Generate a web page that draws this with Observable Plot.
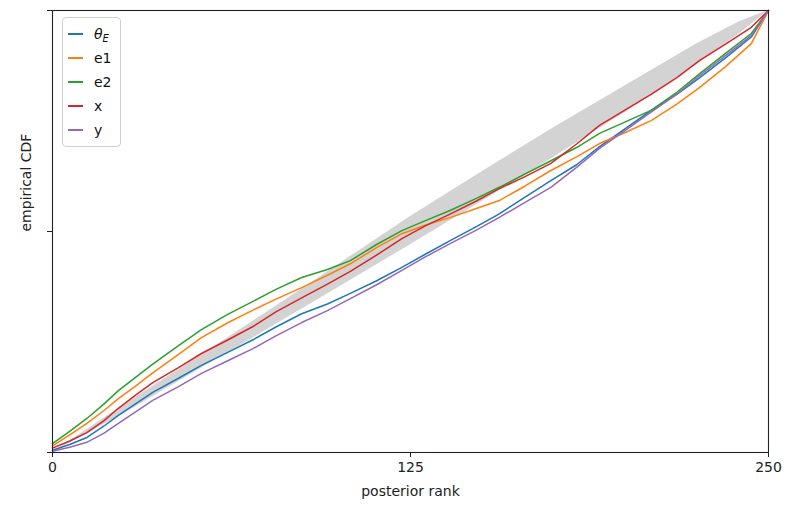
<!DOCTYPE html>
<html><head><meta charset="utf-8">
<script src="https://cdn.jsdelivr.net/npm/d3@7"></script>
<script src="https://cdn.jsdelivr.net/npm/@observablehq/plot@0.6"></script>
<style>
body{margin:0;background:#fff;font-family:"DejaVu Sans",sans-serif;}
#wrap{position:relative;width:798px;height:506px;}
#legend{position:absolute;left:62px;top:17px;width:59px;height:130px;border:1px solid #d0d0d0;border-radius:4px;background:rgba(255,255,255,0.85);box-sizing:border-box;}
.row{position:absolute;left:0;height:20px;width:58px;}
.sw{position:absolute;left:5px;top:9px;width:15px;height:0;border-top:2px solid;}
.lab{position:absolute;left:31px;top:0;font-size:14px;line-height:20px;color:#111;}
</style>
</head><body>
<div id="wrap"></div>
<script>
const series = ["θ_E", "e1", "e2", "x", "y"];
const colors = ["#1f77b4", "#ff7f0e", "#2ca02c", "#d62728", "#9467bd"];
const ranks = [0, 6, 12, 18, 23, 29, 35, 44, 52, 61, 70, 78, 87, 96, 104, 113, 122, 130, 139, 148, 156, 165, 174, 183, 191, 200, 209, 218, 226, 235, 244, 250];
const thetaE = [0.005, 0.018, 0.034, 0.060, 0.084, 0.110, 0.136, 0.168, 0.197, 0.226, 0.255, 0.284, 0.314, 0.336, 0.360, 0.388, 0.419, 0.448, 0.480, 0.511, 0.540, 0.578, 0.615, 0.651, 0.692, 0.733, 0.774, 0.810, 0.848, 0.893, 0.940, 1];
const e1     = [0.015, 0.040, 0.066, 0.095, 0.122, 0.150, 0.180, 0.222, 0.260, 0.293, 0.322, 0.347, 0.373, 0.401, 0.427, 0.463, 0.495, 0.514, 0.532, 0.552, 0.570, 0.603, 0.638, 0.669, 0.699, 0.724, 0.751, 0.788, 0.826, 0.873, 0.925, 1];
const e2     = [0.020, 0.048, 0.077, 0.110, 0.140, 0.170, 0.200, 0.242, 0.278, 0.312, 0.342, 0.369, 0.396, 0.414, 0.434, 0.470, 0.502, 0.524, 0.548, 0.575, 0.600, 0.630, 0.660, 0.690, 0.722, 0.748, 0.774, 0.815, 0.857, 0.903, 0.948, 1];
const xs     = [0.010, 0.026, 0.045, 0.072, 0.100, 0.130, 0.158, 0.192, 0.224, 0.254, 0.285, 0.318, 0.350, 0.381, 0.410, 0.446, 0.484, 0.512, 0.540, 0.569, 0.597, 0.624, 0.654, 0.698, 0.740, 0.775, 0.810, 0.848, 0.887, 0.924, 0.962, 1];
const ys     = [0.003, 0.012, 0.023, 0.044, 0.066, 0.092, 0.118, 0.149, 0.179, 0.207, 0.235, 0.264, 0.294, 0.321, 0.348, 0.379, 0.412, 0.442, 0.473, 0.503, 0.532, 0.566, 0.600, 0.645, 0.688, 0.729, 0.770, 0.811, 0.853, 0.898, 0.943, 1];
const bandRanks = [0, 25, 50, 75, 100, 125, 150, 175, 200, 225, 240, 250];
const bandLower = [0, 0.088, 0.183, 0.278, 0.374, 0.470, 0.568, 0.668, 0.770, 0.878, 0.948, 1];
const bandUpper = [0, 0.108, 0.212, 0.318, 0.426, 0.534, 0.635, 0.735, 0.830, 0.925, 0.975, 1];
const xTicks = [0, 125, 250];
const yTicks = [0, 0.5, 1];

const values = [thetaE, e1, e2, xs, ys];
const data = series.flatMap((s, i) => ranks.map((r, j) => ({series: s, rank: r, F: values[i][j]})));
const band = bandRanks.map((r, i) => ({rank: r, lo: bandLower[i], hi: bandUpper[i]}));

const chart = Plot.plot({
  width: 798, height: 506,
  marginLeft: 52, marginRight: 30, marginTop: 10, marginBottom: 54,
  style: {fontFamily: "DejaVu Sans, sans-serif", fontSize: "14px", color: "#222", background: "#fff"},
  x: {domain: [0, 250]},
  y: {domain: [0, 1]},
  color: {domain: series, range: colors},
  marks: [
    Plot.areaY(band, {x: "rank", y1: "lo", y2: "hi", fill: "#d3d3d3"}),
    Plot.line(data, {x: "rank", y: "F", z: "series", stroke: "series", strokeWidth: 1.5}),
    Plot.frame({stroke: "#222", strokeWidth: 1.1}),
    Plot.axisX({ticks: xTicks, tickSize: 5, tickPadding: 5, label: null, stroke: "#222"}),
    Plot.axisY({ticks: yTicks, tickSize: 5, tickFormat: () => "", label: null, stroke: "#222"}),
    Plot.text(["posterior rank"], {frameAnchor: "bottom", dy: 39, lineAnchor: "middle", fontSize: 14, fill: "#222"}),
    Plot.text(["empirical CDF"], {frameAnchor: "left", dx: -26, rotate: -90, fontSize: 14, fill: "#222"})
  ]
});
const wrap = document.getElementById("wrap");
wrap.appendChild(chart);

const legend = document.createElement("div");
legend.id = "legend";
const rowTops = [6, 30, 54, 78, 102];
series.forEach((s, i) => {
  const row = document.createElement("div");
  row.className = "row";
  row.style.top = rowTops[i] + "px";
  const sw = document.createElement("div");
  sw.className = "sw";
  sw.style.borderTopColor = colors[i];
  const lab = document.createElement("div");
  lab.className = "lab";
  if (s.includes("_")) {
    const [a, b] = s.split("_");
    lab.innerHTML = `<i>${a}</i><sub style="font-size:10px;font-style:italic;vertical-align:-3px">${b}</sub>`;
  } else {
    lab.textContent = s;
  }
  row.appendChild(sw);
  row.appendChild(lab);
  legend.appendChild(row);
});
wrap.appendChild(legend);
</script>
</body></html>
